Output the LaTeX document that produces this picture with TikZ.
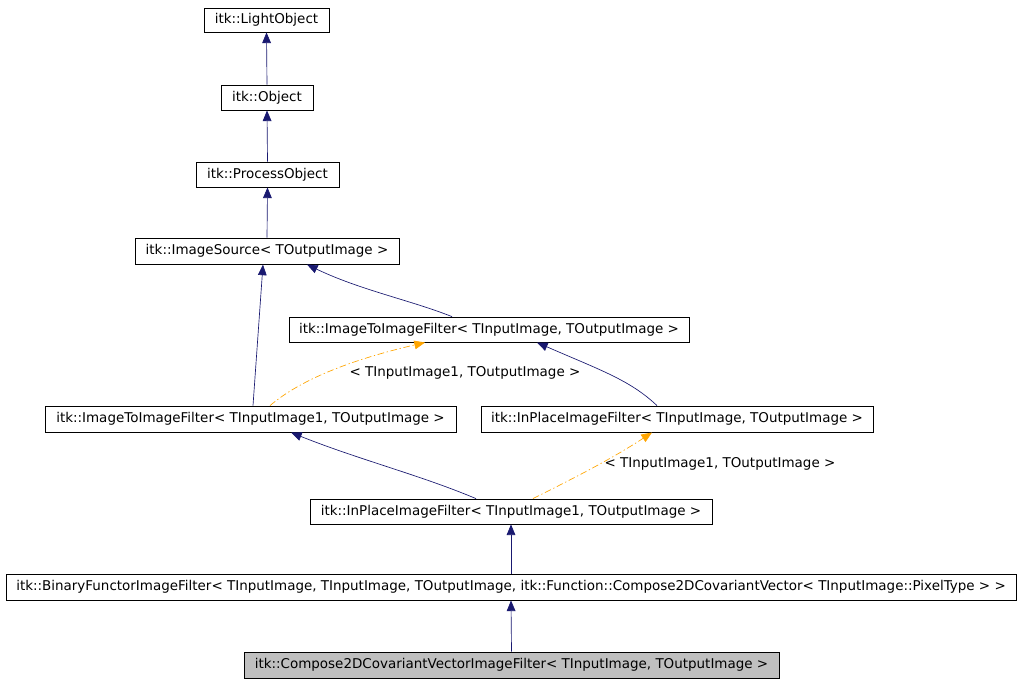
\documentclass[tikz,border=0pt]{standalone}
\usepackage{fontspec}
\setmainfont{DejaVu Sans}
\usetikzlibrary{arrows.meta}
\definecolor{navy}{HTML}{191970}
\definecolor{orng}{HTML}{FFA500}
\begin{document}
\begin{tikzpicture}[x=0.75pt,y=-0.75pt,
  box/.style={draw=black,fill=white,inner sep=0pt,font=\fontsize{10.1}{12}\selectfont,line width=0.6pt},
  inh/.style={draw=navy,line width=0.5pt,-{Triangle[length=8pt,width=6.5pt]}},
  tpl/.style={draw=orng,line width=0.5pt,dash pattern=on 5pt off 2pt on 1pt off 2pt,-{Triangle[length=8pt,width=6.5pt]}},
  lbl/.style={font=\fontsize{10.1}{12}\selectfont}]
\useasboundingbox (0,0) rectangle (1021,683);
\node[box,minimum width=93.75pt,minimum height=18pt] (lo) at (266.5,20) {itk::LightObject};
\node[box,minimum width=69pt,minimum height=18.75pt] (ob) at (267,97.5) {itk::Object};
\node[box,minimum width=107.25pt,minimum height=18.75pt] (po) at (267.5,174.5) {itk::ProcessObject};
\node[box,minimum width=198pt,minimum height=19.5pt] (is) at (267,251) {itk::ImageSource< TOutputImage >};
\node[box,minimum width=300pt,minimum height=18.75pt] (iti) at (489,329.5) {itk::ImageToImageFilter< TInputImage, TOutputImage >};
\node[box,minimum width=308.25pt,minimum height=19.5pt] (iti1) at (250.5,419) {itk::ImageToImageFilter< TInputImage1, TOutputImage >};
\node[box,minimum width=294pt,minimum height=19.5pt] (ipi) at (677,419) {itk::InPlaceImageFilter< TInputImage, TOutputImage >};
\node[box,minimum width=301.5pt,minimum height=18.75pt] (ipi1) at (511,511.5) {itk::InPlaceImageFilter< TInputImage1, TOutputImage >};
\node[box,minimum width=757.5pt,minimum height=19.5pt] (bf) at (511,587) {itk::BinaryFunctorImageFilter< TInputImage, TInputImage, TOutputImage, itk::Function::Compose2DCovariantVector< TInputImage::PixelType > >};
\node[box,fill=black!25,minimum width=401.25pt,minimum height=19.5pt] (cp) at (511.5,665) {itk::Compose2DCovariantVectorImageFilter< TInputImage, TOutputImage >};
\draw[inh] (ob.north) -- (lo.south);
\draw[inh] (po.north) -- (ob.south);
\draw[inh] (is.north) -- (po.south);
\draw[inh] (iti.north -| 452,0) .. controls (410,300) and (360,290) .. (307,264.5);
\draw[inh] (iti1.north -| 253,0) -- (263,264.5);
\draw[tpl] (iti1.north -| 270,0) .. controls (300,380) and (350,360) .. (425,342.5);
\node[lbl] (l1) at (465,373) {< TInputImage1, TOutputImage >};
\draw[inh] (ipi.north -| 657,0) .. controls (630,380) and (600,370) .. (537,342.5);
\draw[inh] (ipi1.north -| 476,0) .. controls (420,475) and (360,460) .. (291,432.5);
\draw[tpl] (ipi1.north -| 533,0) .. controls (570,480) and (610,460) .. (652,432.5);
\node[lbl] (l2) at (720,464) {< TInputImage1, TOutputImage >};
\draw[inh] (bf.north) -- (ipi1.south);
\draw[inh] (cp.north) -- (bf.south);
\end{tikzpicture}
\end{document}
